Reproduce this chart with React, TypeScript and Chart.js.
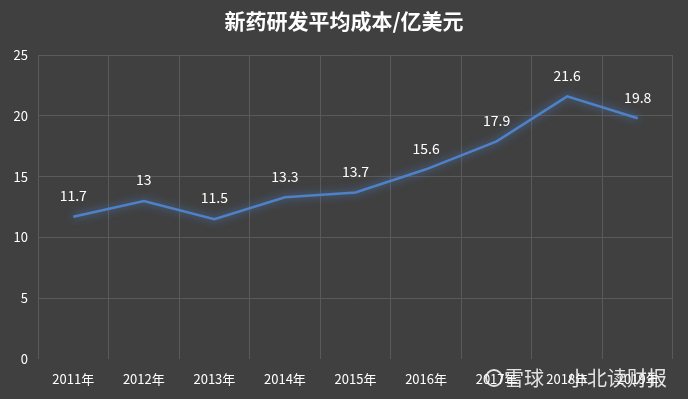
import React, { useEffect, useRef } from "react";
import { Chart, registerables } from "chart.js";

Chart.register(...registerables);

const TITLE = "新药研发平均成本/亿美元";
const CATEGORIES = ["2011年", "2012年", "2013年", "2014年", "2015年", "2016年", "2017年", "2018年", "2019年"];
const COSTS = [11.7, 13, 11.5, 13.3, 13.7, 15.6, 17.9, 21.6, 19.8];
const Y_TICKS = [0, 5, 10, 15, 20, 25];
const WATERMARK_A = "雪球";
const WATERMARK_B = "小北读财报";

const FONT = "'Noto Sans CJK SC', 'DejaVu Sans', sans-serif";

export default function App() {
  const ref = useRef<HTMLCanvasElement | null>(null);

  useEffect(() => {
    document.body.style.margin = "0";
    const canvas = ref.current!;
    const glowPlugin = {
      id: "glow",
      beforeDatasetDraw(chart: any) {
        const ctx = chart.ctx;
        ctx.save();
        ctx.shadowColor = "rgba(79,129,200,0.9)";
        ctx.shadowBlur = 8;
      },
      afterDatasetDraw(chart: any) {
        chart.ctx.restore();
      },
    };
    const textPlugin = {
      id: "texts",
      afterDraw(chart: any) {
        const ctx = chart.ctx;
        ctx.save();
        ctx.fillStyle = "#ffffff";
        ctx.textAlign = "center";
        ctx.textBaseline = "middle";
        ctx.font = `bold 21px ${FONT}`;
        ctx.fillText(TITLE, 344, 21);
        const meta = chart.getDatasetMeta(0);
        ctx.font = `14px ${FONT}`;
        meta.data.forEach((pt: any, i: number) => {
          ctx.fillText(String(COSTS[i]), pt.x, pt.y - 21);
        });
        ctx.font = `20px ${FONT}`;
        ctx.textAlign = "left";
        ctx.fillStyle = "rgba(255,255,255,0.85)";
        ctx.strokeStyle = "rgba(255,255,255,0.85)";
        ctx.lineWidth = 2;
        ctx.beginPath();
        ctx.arc(494, 378, 8, 0, Math.PI * 2);
        ctx.stroke();
        ctx.fillText(WATERMARK_A, 504, 378);
        ctx.fillText(WATERMARK_B, 567, 378);
        ctx.restore();
      },
    };
    const chart = new Chart(canvas, {
      type: "line",
      data: {
        labels: CATEGORIES,
        datasets: [
          {
            data: COSTS,
            borderColor: "#4f81c8",
            borderWidth: 2.5,
            pointRadius: 0,
            tension: 0,
            fill: false,
          },
        ],
      },
      options: {
        animation: false,
        responsive: false,
        devicePixelRatio: 1,
        layout: { padding: { left: 0, right: 15, top: 55, bottom: 0 } },
        plugins: {
          legend: { display: false },
          title: { display: false },
          tooltip: { enabled: false },
        },
        scales: {
          x: {
            offset: true,
            grid: { color: "#5a5a5a", offset: true, drawTicks: false },
            border: { display: false },
            ticks: { color: "#ffffff", font: { family: FONT, size: 13 }, padding: 12, maxRotation: 0, autoSkip: false },
            afterFit(scale: any) {
              scale.height = 40;
            },
          },
          y: {
            min: 0,
            max: 25,
            afterBuildTicks(scale: any) {
              scale.ticks = Y_TICKS.map((v) => ({ value: v }));
            },
            grid: {
              color: (c: any) => (c.tick && c.tick.value === 0 ? "rgba(0,0,0,0)" : "#5a5a5a"),
              drawTicks: false,
            },
            border: { display: false },
            ticks: { color: "#ffffff", font: { family: FONT, size: 13 }, padding: 10 },
            afterFit(scale: any) {
              scale.width = 38;
            },
          },
        },
      },
      plugins: [glowPlugin, textPlugin],
    });
    return () => chart.destroy();
  }, []);

  return (
    <div style={{ position: "fixed", left: 0, top: 0, width: 688, height: 399, background: "#404040" }}>
      <canvas ref={ref} width={688} height={399} style={{ width: 688, height: 399, display: "block" }} />
    </div>
  );
}
